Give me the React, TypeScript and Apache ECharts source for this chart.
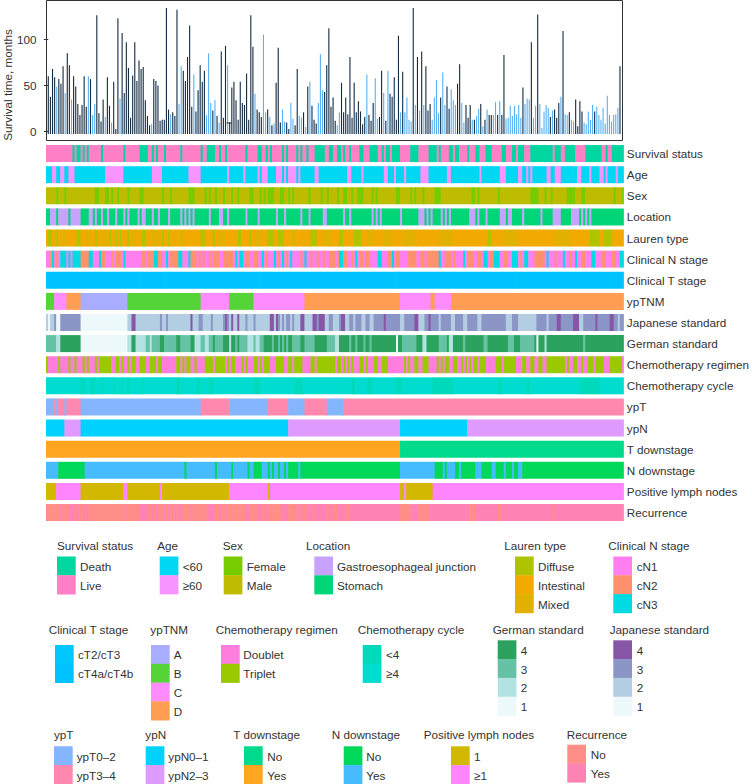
import React, { useEffect, useRef } from "react";
import * as echarts from "echarts";

type Stripe = number[];
const COLS = 284;
const paint = (base: number, stripes: Stripe[]) => {
  const out: number[] = new Array(COLS).fill(base);
  stripes.forEach(([s, e, v]) => {
    for (let i = s; i < e && i < COLS; i++) out[i] = v === undefined ? 1 - base : v;
  });
  return out;
};

// ---------- survival bars ----------
const survivalMonths = [
  60,38,68,59,49,57,52,71,42,85,
  72,35,60,49,30,18,29,60,27,60,
  57,18,30,126,20,11,35,16,59,28,
  10,54,3,123,36,107,42,97,69,15,
  61,97,55,77,68,70,34,17,7,8,
  57,55,50,12,13,13,134,24,19,21,
  17,132,30,71,66,55,81,115,27,62,
  22,45,72,54,66,18,85,31,23,34,
  17,10,87,15,93,72,10,48,54,34,
  13,54,31,29,63,13,126,92,41,24,
  21,16,105,21,24,16,7,9,53,91,
  10,24,11,10,3,31,14,7,68,17,
  15,21,5,49,54,28,13,9,31,84,
  45,43,72,112,27,37,12,7,21,53,
  21,37,19,81,15,53,21,33,22,8,
  16,62,18,12,31,58,14,16,66,42,
  12,66,41,38,59,13,104,21,65,21,
  37,13,11,134,29,81,23,87,29,71,
  23,30,13,37,56,20,37,64,29,49,
  25,46,34,29,52,73,31,10,29,15,
  29,13,13,17,25,30,6,13,24,18,
  18,18,32,18,33,18,83,14,15,28,
  17,28,19,29,15,48,30,36,35,97,
  15,28,127,30,4,22,29,26,16,23,
  24,15,31,38,109,19,18,21,13,11,
  35,6,33,22,10,8,22,13,29,22,
  27,18,13,26,9,39,18,11,18,19,
  26,71,
];
const barGroup = [
  "DDDDLDDDLD","DLDDDDDDDL","DLLDDDDLDD","LDDDLDDDDD","DDDDDDDDDL","DDDDDDDDLD","DDLLDDDDDL",
  "DDDDDLLLDL","DLDDDLDDDD","DDDDDDDDLD","DDLLDLDLDD","DLLDDLLDDL","LDLDLDDDLL","LDDDDDDLLD",
  "DDDDDDDDDD","DLDDDLLDDL","DLDDDDDLDL","LLLDLDLDLD","DDLLLLDLLD","DLLLDDLLDD","DLDLLDLDLD",
  "DLLDLDDLLL","LLLLLDLLLD","LLDLLLLLDL","DDDLDLLDLL","DDDDLLLLLD","LLLLLLLLLL","LD",
].join("");
const yTicks = [0, 50, 100];
const barBase = -2.5;
const stubMarks = [[85.7, 9.5]];
const barColors = ["#132B43", "#56B1F7"];

// ---------- annotation tracks (0/1/2/3 index each track's legend entries) ----------
const survivalStatus = paint(1, [
  [13,14],[15,16],[16,17],[18,19],[20,21],[27,28],[38,39],[46,50],[52,53],[54,55],[58,59],[66,67],[76,77],[79,83],[85,86],[88,89],[98,99],[104,106],[108,109],[110,111],[116,117],[118,119],[123,124],[125,126],[128,129],[132,137],[139,141],[143,145],
  [146,147],[149,150],[154,156],[159,163],[165,166],[167,169],[170,174],[179,183],[188,192],[193,194],[198,200],[201,203],[207,208],[211,213],[216,219],[224,226],[229,231],[232,235],[238,242],[242,249],[250,253],[255,260],[265,273],[275,276],[278,284],
]);
const age = paint(0, [
  [3,5],[7,9],[11,14],[29,38],[52,57],[70,76],[89,90],[97,98],[104,105],[106,109],[113,116],[117,118],[119,123],[124,125],[132,134],
  [148,150],[155,156],[166,168],[171,172],[176,177],[184,188],[197,199],[213,214],[223,226],[232,234],[236,237],[238,239],[246,248],[250,253],[261,263],[267,268],[272,274],[275,276],[280,281],
]);
const sex = paint(1, [
  [5,6],[9,10],[24,26],[29,31],[32,33],[35,36],[40,41],[46,48],[57,58],[61,62],[70,73],[78,79],[80,81],[83,84],[87,88],[91,92],[94,95],[100,102],[105,106],[107,108],[109,112],[115,117],[119,120],[121,122],[129,130],[135,136],[138,139],[143,144],
  [146,148],[150,151],[153,156],[160,161],[162,163],[172,174],[179,180],[181,182],[185,186],[191,194],[209,211],[212,213],[222,223],[238,242],[245,246],[248,249],[256,260],[263,265],[279,280],[283,284],
]);
const locationSite = paint(1, [
  [2,5],[6,11],[12,17],[21,23],[24,25],[27,28],[30,31],[34,35],[38,39],[40,41],[45,46],[47,49],[52,53],[55,56],[60,61],[66,67],[68,69],[70,71],[72,73],[80,81],[85,87],[89,90],[98,99],[104,105],[113,114],[117,118],[125,126],[129,130],[136,138],
  [146,147],[149,150],[160,161],[162,163],[164,165],[174,175],[183,186],[187,188],[189,190],[194,195],[196,197],[198,199],[208,211],[212,213],[216,217],[223,226],[227,229],[234,235],[243,244],[249,253],[258,262],[263,264],[265,266],[267,268],
]);
const laurenType = paint(1, [
  [1,3,0],[5,6,0],[15,17,0],[24,25,0],[31,32,0],[34,35,0],[36,37,0],[40,41,0],[47,49,0],[57,58,0],[60,61,0],[76,78,0],[82,83,0],[94,96,0],[100,101,0],[109,112,0],[114,117,0],[130,133,0],
  [144,146,0],[151,155,0],[217,219,0],[267,272,0],[274,278,0],
  [8,10,2],[20,22,2],[27,30,2],[42,44,2],[52,55,2],[65,68,2],[85,88,2],[103,106,2],[120,123,2],[136,140,2],[158,161,2],[166,170,2],[175,182,2],[193,200,2],[225,232,2],[250,258,2],
]);
const clinicalN = paint(0, [
  [2,3,1],[3,4,2],[5,6,1],[7,10,2],[11,12,2],[13,16,2],[16,17,2],[17,21,1],[21,23,2],[26,27,2],[27,29,1],[32,33,1],[34,37,1],[38,39,2],[47,49,1],[50,53,1],[53,55,2],[55,57,1],[59,60,2],[61,65,1],[65,67,2],[70,71,2],[71,74,1],[75,76,1],[77,78,1],[80,81,1],[82,85,1],[87,92,1],[93,94,2],[95,97,2],[98,100,1],[102,104,1],[106,107,2],[108,109,1],[112,113,2],[114,115,1],[116,117,2],[118,119,1],[120,121,2],[125,126,1],[127,128,2],[130,131,1],[133,134,1],[136,137,1],[139,142,1],[143,144,1],
  [144,146,2],[146,148,1],[150,151,1],[152,153,2],[154,156,1],[157,159,1],[163,165,2],[168,170,1],[170,171,2],[172,174,1],[178,182,1],[184,186,1],[187,193,1],[193,194,2],[196,199,1],[200,201,1],[205,206,2],[207,210,1],[212,214,1],[215,217,2],[218,220,1],[220,223,2],[225,227,1],[229,232,2],[233,234,1],[235,237,2],[240,245,1],[246,247,2],[250,251,1],[254,255,2],[257,258,1],[260,261,2],[263,265,1],[268,270,2],[273,275,1],[278,280,1],[282,284,2],
]);
const clinicalT = paint(1, [[46,47],[58,59],[105,106],[172,173],[230,231]]);
const ypTNM = paint(3, [[0,4,1],[4,10,2],[10,17,3],[17,40,0],[40,76,1],[76,90,2],[90,102,1],[102,127,2],[174,189,2],[191,199,2]]);
const japaneseStandard = paint(3, [
  [0,144,2],[1,2,1],[4,5,3],[5,7,1],[7,17,3],[17,40,1],[42,44,4],[56,57,3],[59,60,3],[71,72,4],[75,77,3],[81,82,3],[87,88,3],[88,89,4],[89,90,3],[91,92,4],[94,95,4],[98,99,3],[102,103,3],[110,112,4],[113,114,4],[114,120,3],[115,116,2],[117,118,2],[121,122,3],[125,127,4],[131,137,4],[133,134,3],[139,141,3],
  [145,147,4],[147,149,2],[151,152,2],[155,157,2],[159,161,2],[166,167,4],[174,176,2],[181,183,4],[183,186,2],[188,189,4],[193,194,2],[199,201,2],[205,207,2],[212,214,2],[226,229,2],[232,237,2],[237,241,2],[246,247,2],[251,253,4],[259,262,4],[262,264,2],[270,271,4],[277,279,4],[281,282,2],
]);
const germanStandard = paint(4, [
  [0,144,3],[5,7,2],[7,17,4],[17,40,1],[40,42,2],[42,44,4],[44,49,2],[51,52,2],[56,58,4],[64,66,4],[71,73,4],[73,76,2],[78,80,2],[82,83,4],[87,90,4],[90,91,2],[91,93,4],[94,95,4],[99,102,2],[103,105,2],[107,111,4],[112,114,4],[115,116,4],[117,118,4],[119,121,4],[125,127,4],[132,138,4],[142,144,2],
  [149,150,3],[152,153,3],[156,157,3],[159,160,3],[172,173,1],[175,182,3],[185,187,2],[193,197,3],[198,200,2],[205,206,3],[215,217,3],[227,230,3],[233,240,3],[241,242,1],[245,246,2],[264,265,3],
]);
const chemoRegimen = paint(0, [
  [0,1],[6,7],[11,12],[14,15],[18,19],[20,21],[24,25],[26,32],[34,36],[37,38],[40,41],[42,44],[46,49],[51,54],[55,57],[64,66],[67,68],[69,71],[73,74],[78,82],[83,88],[89,90],[91,93],[96,97],[98,99],[102,104],[105,106],[107,110],[113,117],[119,121],[122,126],[130,132],[133,142],[143,145],
  [146,147],[148,149],[150,151],[154,156],[157,158],[161,163],[165,168],[176,177],[178,179],[181,183],[185,188],[192,193],[194,195],[196,198],[200,202],[204,205],[206,207],[208,209],[210,212],[213,216],[221,224],[225,231],[234,236],[238,240],[242,244],[246,255],[256,257],[259,261],[263,264],[266,269],[270,274],[277,283],
]);
const chemoCycle = paint(1, [[17,19],[22,24],[27,28],[33,34],[37,38],[40,41],[47,48],[64,66],[74,76],[80,82],[102,105],[122,126],[150,152],[158,160],[172,175],[190,200],[222,224],[236,238],[262,272]]);
const ypT = paint(1, [[0,4,0],[5,6,0],[9,10,0],[17,76,0],[90,109,0],[119,127,0],[138,146,0]]);
const ypN = paint(1, [[0,9,0],[17,119,0],[174,207,0]]);
const tDownstage = paint(0, [[0,174,1]]);
const nDownstage = paint(1, [[6,19,0],[68,69,0],[83,84,0],[91,92,0],[99,100,0],[102,106,0],[109,110,0],[111,112,0],[114,115,0],[117,118,0],[119,124,0],[125,174,0],[191,195,0],[196,197,0],[201,203,0],[204,211,0],[214,219,0],[221,225,0],[226,229,0],[230,232,0],[234,284,0]]);
const positiveNodes = paint(1, [[0,5,0],[17,38,0],[40,56,0],[57,90,0],[109,110,0],[174,176,0],[177,190,0]]);
const recurrence = paint(0, [
  [7,8],[11,14],[15,16],[18,19],[20,21],[38,39],[46,50],[52,53],[54,55],[58,59],[60,61],[63,64],[65,66],[66,67],[71,72],[79,83],[85,86],[88,89],[98,100],[104,106],[108,109],[116,119],[123,124],[125,126],[128,131],[132,138],[139,141],[143,147],
  [149,174],[179,183],[188,208],[211,222],[224,249],[250,284],
]);

const trackNames = ["Survival status","Age","Sex","Location","Lauren type","Clinical N stage","Clinical T stage","ypTNM","Japanese standard","German standard","Chemotherapy regimen","Chemotherapy cycle","ypT","ypN","T downstage","N downstage","Positive lymph nodes","Recurrence"];
const japaneseLevels = [1, 2, 3, 4];
const toLevelIndex = (a: number[]) => a.map((v) => japaneseLevels.indexOf(v));
const trackValues = [survivalStatus, age, sex, locationSite, laurenType, clinicalN, clinicalT, ypTNM, toLevelIndex(japaneseStandard), toLevelIndex(germanStandard), chemoRegimen, chemoCycle, ypT, ypN, tDownstage, nDownstage, positiveNodes, recurrence];

// ---------- palettes ----------
const cSurvival = ["#00D6A0", "#FF80C6"];
const cAge = ["#00D7F2", "#F794FF"];
const cSex = ["#76CC00", "#BEBC00"];
const cLocation = ["#C7A3FF", "#00D677"];
const cLauren = ["#AFC400", "#F2A900", "#E2B000"];
const cClinN = ["#FF7FF0", "#FF916E", "#00DAE3"];
const cClinT = ["#00C8FF", "#00C2FF"];
const cTNM = ["#A9ADFF", "#55D438", "#FF8CFF", "#FF9E52"];
const cJapanese = ["#EDF8FB", "#B3CDE3", "#8C96C6", "#8856A7"];
const cGerman = ["#EDF8FB", "#B2E2E2", "#66C2A4", "#2CA25F"];
const cRegimen = ["#FF7DDC", "#9AC900"];
const cCycle = ["#00DABB", "#00DDD0"];
const cYpT = ["#85B5FF", "#FF89AE"];
const cYpN = ["#00D2FF", "#DE9AFF"];
const cTDown = ["#00DA8D", "#FFA520"];
const cNDown = ["#00D85A", "#46BCFF"];
const cNodes = ["#D2B800", "#FF85FF"];
const cRecur = ["#FF8E88", "#FF82B4"];
const trackPalettes = [cSurvival, cAge, cSex, cLocation, cLauren, cClinN, cClinT, cTNM, cJapanese, cGerman, cRegimen, cCycle, cYpT, cYpN, cTDown, cNDown, cNodes, cRecur];

// ---------- legend content + layout ----------
const rev = (a: string[]) => [...a].reverse();
const legends: any[] = [
  { title: "Survival status", labels: ["Death", "Live"], colors: cSurvival, tx: 57, ty: 545, sx: 57, sy: 556.5, lx: 80 },
  { title: "Age", labels: ["<60", "≥60"], colors: cAge, tx: 157.3, ty: 545, sx: 159.7, sy: 556.5, lx: 182.7 },
  { title: "Sex", labels: ["Female", "Male"], colors: cSex, tx: 222.7, ty: 545, sx: 223.7, sy: 556.5, lx: 246.7 },
  { title: "Location", labels: ["Gastroesophageal junction", "Stomach"], colors: cLocation, tx: 306, ty: 545, sx: 314.3, sy: 556.5, lx: 337 },
  { title: "Lauren type", labels: ["Diffuse", "Intestinal", "Mixed"], colors: cLauren, tx: 504.3, ty: 545, sx: 515, sy: 556.5, lx: 538 },
  { title: "Clinical N stage", labels: ["cN1", "cN2", "cN3"], colors: cClinN, tx: 608.3, ty: 545, sx: 613.3, sy: 556.5, lx: 636.7 },
  { title: "Clinical T stage", labels: ["cT2/cT3", "cT4a/cT4b"], colors: cClinT, tx: 48.7, ty: 629, sx: 55, sy: 645, lx: 78 },
  { title: "ypTNM", labels: ["A", "B", "C", "D"], colors: cTNM, tx: 150.3, ty: 629, sx: 151, sy: 645, lx: 173.7 },
  { title: "Chemotherapy regimen", labels: ["Doublet", "Triplet"], colors: cRegimen, tx: 215.7, ty: 629, sx: 221, sy: 645, lx: 243.3 },
  { title: "Chemotherapy cycle", labels: ["<4", "≥4"], colors: cCycle, tx: 357.7, ty: 629, sx: 362.7, sy: 645, lx: 386 },
  { title: "German standard", labels: ["4", "3", "2", "1"], colors: rev(cGerman), tx: 492.7, ty: 629, sx: 497.7, sy: 640.3, lx: 520.7 },
  { title: "Japanese standard", labels: ["4", "3", "2", "1"], colors: rev(cJapanese), tx: 609.7, ty: 629, sx: 613.3, sy: 640.3, lx: 636.7 },
  { title: "ypT", labels: ["ypT0–2", "ypT3–4"], colors: cYpT, tx: 54, ty: 734.3, sx: 54, sy: 746.3, lx: 76.7 },
  { title: "ypN", labels: ["ypN0–1", "ypN2–3"], colors: cYpN, tx: 145.3, ty: 734.3, sx: 145.7, sy: 746.3, lx: 168.3 },
  { title: "T downstage", labels: ["No", "Yes"], colors: cTDown, tx: 233.3, ty: 734.3, sx: 244, sy: 746.3, lx: 267.3 },
  { title: "N downstage", labels: ["No", "Yes"], colors: cNDown, tx: 331.7, ty: 734.3, sx: 343.7, sy: 746.3, lx: 366.3 },
  { title: "Positive lymph nodes", labels: ["1", "≥1"], colors: cNodes, tx: 423.7, ty: 734.3, sx: 451, sy: 746.3, lx: 474 },
  { title: "Recurrence", labels: ["No", "Yes"], colors: cRecur, tx: 566.7, ty: 734.3, sx: 567.3, sy: 744.7, lx: 590.7 },
];

const FONT = '"Liberation Sans", Arial, sans-serif';
const TEXT = "#333333";
const FS = 11.7;
const SW = 18.7;
const SH = 18.8;

const legendGraphics = () => {
  const out: any[] = [];
  const txt = (x: number, y: number, text: string) => ({
    type: "text",
    x,
    y,
    silent: true,
    style: { text, fill: TEXT, fontFamily: FONT, fontSize: FS, textVerticalAlign: "middle", textAlign: "left" },
  });
  legends.forEach((b) => {
    out.push(txt(b.tx, b.ty, b.title));
    b.colors.forEach((c: string, i: number) => {
      out.push({ type: "rect", silent: true, shape: { x: b.sx, y: b.sy + i * SH, width: SW, height: SH + 0.3 }, style: { fill: c } });
      out.push(txt(b.lx, b.sy + (i + 0.5) * SH + 0.5, b.labels[i]));
    });
  });
  out.push({
    type: "text",
    x: 7,
    y: 85,
    rotation: Math.PI / 2,
    silent: true,
    style: { text: "Survival time, months", fill: TEXT, fontFamily: FONT, fontSize: FS, textAlign: "center", textVerticalAlign: "middle" },
  });
  return out;
};

// run-merge each track so adjacent equal cells share one rectangle
const segments: number[][] = [];
trackValues.forEach((vals, row) => {
  let start = 0;
  for (let i = 1; i <= vals.length; i++) {
    if (i === vals.length || vals[i] !== vals[start]) {
      segments.push([start, i, row, vals[start]]);
      start = i;
    }
  }
});

export default function App() {
  const ref = useRef<HTMLDivElement>(null);
  useEffect(() => {
    const chart = echarts.init(ref.current!, undefined, { renderer: "svg" });
    chart.setOption({
      animation: false,
      backgroundColor: "#ffffff",
      grid: [
        { left: 46.5, top: 0.5, width: 576, height: 140, show: true, borderColor: "#333333", borderWidth: 1, backgroundColor: "#ffffff" },
        { left: 46, top: 143, width: 579, height: 380.1, show: false },
      ],
      xAxis: [
        { type: "value", gridIndex: 0, min: -0.85, max: survivalMonths.length + 0.2, show: false, splitLine: { show: false } },
        { type: "value", gridIndex: 1, min: 0, max: COLS, show: false, splitLine: { show: false } },
      ],
      yAxis: [
        {
          type: "value",
          gridIndex: 0,
          min: -9.5,
          max: 142.1,
          splitLine: { show: false },
          axisLine: { show: false },
          axisTick: { show: true, length: 4.5, customValues: yTicks, lineStyle: { color: "#333333" } },
          axisLabel: { customValues: yTicks, color: TEXT, fontFamily: FONT, fontSize: FS, margin: 10 },
        },
        {
          type: "category",
          gridIndex: 1,
          data: trackNames,
          inverse: true,
          position: "right",
          axisLine: { show: false },
          axisTick: { show: false },
          splitLine: { show: false },
          axisLabel: { color: TEXT, fontFamily: FONT, fontSize: FS, margin: 3, interval: 0 },
        },
      ],
      series: [
        {
          type: "custom",
          xAxisIndex: 0,
          yAxisIndex: 0,
          silent: true,
          encode: { x: 0, y: 1 },
          data: survivalMonths.map((v, i) => [i, v, barGroup[i] === "D" ? 0 : 1]),
          renderItem: (_p: any, api: any) => {
            const top = api.coord([api.value(0), api.value(1)]);
            const base = api.coord([api.value(0), barBase]);
            return {
              type: "rect",
              shape: { x: top[0] - 0.55, y: top[1], width: 1.1, height: base[1] - top[1] },
              style: { fill: barColors[api.value(2)] },
            };
          },
        },
        {
          type: "scatter",
          xAxisIndex: 0,
          yAxisIndex: 0,
          silent: true,
          symbol: "rect",
          symbolSize: [5, 1.2],
          itemStyle: { color: "#222222" },
          data: stubMarks,
        },
        {
          type: "custom",
          xAxisIndex: 1,
          yAxisIndex: 1,
          silent: true,
          encode: { x: [0, 1], y: 2 },
          data: segments,
          renderItem: (_p: any, api: any) => {
            const row = api.value(2);
            const a = api.coord([api.value(0), row]);
            const b = api.coord([api.value(1), row]);
            const isLast = api.value(1) >= COLS;
            return {
              type: "rect",
              // a small overlap into the next run hides anti-aliasing seams
              shape: { x: a[0], y: a[1] - 8.5, width: b[0] - a[0] + (isLast ? 0 : 0.6), height: 17 },
              style: { fill: trackPalettes[row][api.value(3)] },
            };
          },
        },
      ],
      graphic: legendGraphics(),
    });
    return () => chart.dispose();
  }, []);
  return <div ref={ref} style={{ position: "absolute", left: 0, top: 0, width: 752, height: 784 }} />;
}
